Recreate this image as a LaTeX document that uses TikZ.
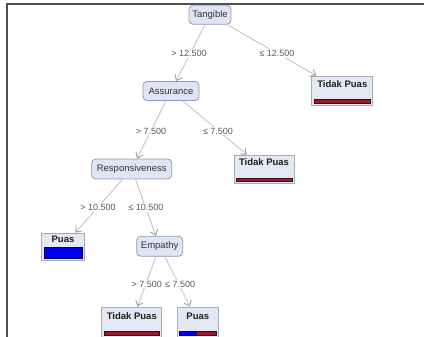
\documentclass[tikz,border=0pt]{standalone}
\usepackage{fontspec}
\setmainfont{Liberation Sans}
\usetikzlibrary{arrows.meta}
\definecolor{nodefill}{HTML}{DFE5F5}
\definecolor{nodeline}{HTML}{8F9BB7}
\definecolor{leaffill}{HTML}{E4E8F4}
\definecolor{leafline}{HTML}{A3ABBD}
\definecolor{edgecol}{HTML}{C4C4C4}
\definecolor{tipcol}{HTML}{A0A0A0}
\definecolor{barred}{HTML}{9A1B2D}
\definecolor{barblue}{HTML}{0000EE}
\definecolor{framecol}{HTML}{4D4D4D}
\begin{document}
\begin{tikzpicture}[x=1pt,y=-1pt,
 inner/.style={draw=nodeline, fill=nodefill, rounded corners=4pt, line width=0.8pt, inner sep=0pt, font=\fontsize{9.5}{11}\selectfont, text=black!80},
 leafbox/.style={draw=leafline, fill=leaffill, line width=0.8pt, inner sep=0pt},
 leaftext/.style={font=\fontsize{9.5}{11}\selectfont\bfseries, text=black!88, inner sep=0pt},
 cond/.style={font=\fontsize{9}{11}\selectfont, text=black!65, fill=white, inner sep=1pt},
 conn/.style={draw=edgecol, line width=0.9pt, -{Straight Barb[length=5pt,width=8pt,line width=0.9pt,color=tipcol]}},
 redbar/.style={fill=barred, draw=black!60!barred, line width=0.5pt},
 bluebar/.style={fill=barblue, draw=black!60!barblue, line width=0.6pt}]
\path[use as bounding box] (0,0) rectangle (424,337);
\clip (0,0) rectangle (424,337);
% frame
\draw[framecol, line width=1.5pt] (7,337) -- (7,4) -- (424,4);
% inner nodes
\node[inner, minimum width=42pt, minimum height=19pt] (tangible) at (210,14.8) {Tangible};
\node[inner, minimum width=56pt, minimum height=19pt] (assurance) at (171,91) {Assurance};
\node[inner, minimum width=80pt, minimum height=20pt] (resp) at (131.7,169) {Responsiveness};
\node[inner, minimum width=46pt, minimum height=20pt] (empathy) at (159.7,246.3) {Empathy};
% leaves
\node[leafbox, minimum width=61pt, minimum height=29pt] (tp1) at (342.3,90.5) {};
\node[leafbox, minimum width=60pt, minimum height=28pt] (tp2) at (264,169) {};
\node[leafbox, minimum width=43pt, minimum height=27pt] (puas1) at (63,246.5) {};
\node[leafbox, minimum width=60pt, minimum height=30pt] (tp3) at (131.8,322) {};
\node[leafbox, minimum width=41pt, minimum height=30pt] (puas2) at (197.8,322) {};
\node[leaftext] (tp1t) at ([yshift=-9pt]tp1.north) {Tidak Puas};
\node[leaftext] (tp2t) at ([yshift=-8pt]tp2.north) {Tidak Puas};
\node[leaftext] (puas1t) at ([yshift=-7pt]puas1.north) {Puas};
\node[leaftext] (tp3t) at ([yshift=-9.5pt]tp3.north) {Tidak Puas};
\node[leaftext] (puas2t) at ([yshift=-9.5pt]puas2.north) {Puas};
% bars
\filldraw[redbar] ([xshift=3pt,yshift=1.7pt]tp1.south west) rectangle ([xshift=-2.5pt,yshift=5.7pt]tp1.south east);
\filldraw[redbar] ([xshift=3pt,yshift=1.7pt]tp2.south west) rectangle ([xshift=-2.5pt,yshift=5.5pt]tp2.south east);
\filldraw[bluebar] ([xshift=3pt,yshift=1.7pt]puas1.south west) rectangle ([xshift=-2.6pt,yshift=13pt]puas1.south east);
\filldraw[redbar] ([xshift=2.5pt,yshift=2.4pt]tp3.south west) rectangle ([xshift=-2.5pt,yshift=5.8pt]tp3.south east);
\filldraw[bluebar] ([xshift=2pt,yshift=2.4pt]puas2.south west) rectangle ([xshift=19.4pt,yshift=5.8pt]puas2.south west);
\filldraw[redbar] ([xshift=19.4pt,yshift=2.4pt]puas2.south west) rectangle ([xshift=-2pt,yshift=5.8pt]puas2.south east);
% connectors
\draw[conn] (tangible) -- (assurance);
\draw[conn] (tangible) -- (tp1);
\draw[conn] (assurance) -- (resp);
\draw[conn] (assurance) -- (tp2);
\draw[conn] (resp) -- (puas1);
\draw[conn] (resp) -- (empathy);
\draw[conn] (empathy) -- (tp3);
\draw[conn] (empathy) -- (puas2);
% conditions
\node[cond] (l1) at (189,53.5) {> 12.500};
\node[cond] (l2) at (277,53.5) {≤ 12.500};
\node[cond] (l3) at (151,131) {> 7.500};
\node[cond] (l4) at (218,131) {≤ 7.500};
\node[cond] (l5) at (98,207.5) {> 10.500};
\node[cond] (l6) at (146,207.5) {≤ 10.500};
\node[cond, anchor=east] (l7) at (163,284) {> 7.500};
\node[cond, anchor=west] (l8) at (164,284) {≤ 7.500};
\end{tikzpicture}
\end{document}
